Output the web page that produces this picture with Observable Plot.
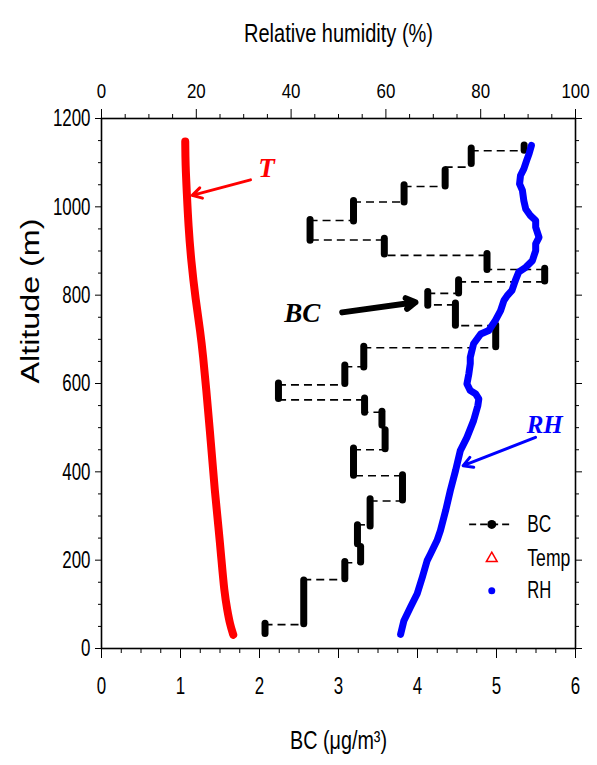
<!DOCTYPE html>
<html><head><meta charset="utf-8">
<script src="https://cdn.jsdelivr.net/npm/d3@7"></script>
<script src="https://cdn.jsdelivr.net/npm/@observablehq/plot@0.6"></script>
<style>
body{margin:0;background:#fff;}
</style></head><body><div id="chart"></div>
<script>
// ---- BC profile: each step = one BC value held over an altitude range ----
const bcValue     = [2.07, 2.56, 3.08, 3.28, 3.24, 3.40, 3.81, 3.19, 3.59, 3.55, 3.33, 2.24, 3.08, 3.32, 4.99, 4.48, 4.13, 4.52, 5.61, 4.88, 3.58, 2.64, 3.19, 3.83, 4.35, 4.68, 5.35];
const bcAltBottom = [26, 48, 150, 188, 229, 269, 328, 384, 444, 498, 527, 558, 592, 629, 675, 724, 769, 797, 824, 850, 885, 916, 960, 1003, 1039, 1090, 1120];
const bcAltTop    = [63, 161, 203, 237, 286, 345, 399, 460, 501, 543, 573, 607, 648, 690, 739, 788, 814, 841, 867, 900, 935, 977, 1020, 1056, 1090, 1139, 1146];
// altitude of the dashed link between step i and step i+1
const bcJoinAlt   = [54, 156, 194, 233, 280, 334, 391, 450, 500, 535, 563, 597, 638, 681, 731, 778, 804, 830, 858, 890, 925, 969, 1011, 1046, 1090, 1127];

// ---- Relative humidity profile (%), top axis ----
const rhAlt = [32, 63, 94, 124, 162, 199, 214, 245, 267, 312, 358, 403, 448, 478, 516, 550, 565, 577, 584, 599, 622, 645, 659, 690, 712, 720, 743, 765, 788, 799, 811, 833, 852, 863, 878, 901, 916, 931, 954, 969, 980, 995, 1014, 1037, 1052, 1071, 1086, 1105, 1120, 1139];
const rhValue = [63.1, 63.8, 65.2, 66.6, 67.7, 68.7, 69.4, 70.8, 71.5, 72.6, 73.6, 74.7, 75.7, 77.1, 78.5, 79.4, 79.6, 78.9, 77.8, 77.1, 77.5, 77.8, 77.8, 78.5, 80.0, 81.7, 83.1, 84.2, 84.9, 85.6, 86.6, 87.3, 88.0, 89.5, 90.9, 91.6, 91.6, 92.3, 91.6, 91.6, 90.5, 89.5, 89.1, 88.8, 88.2, 88.4, 89.1, 89.7, 90.2, 90.7];

// ---- Temperature trace, as placed on the bottom axis ----
const tempAlt = [31, 55, 87, 127, 208, 273, 353, 466, 595, 660, 716, 789, 877, 958, 1031, 1095, 1148];
const tempOnBcAxis = [1.668, 1.626, 1.592, 1.555, 1.515, 1.482, 1.435, 1.385, 1.322, 1.287, 1.252, 1.192, 1.135, 1.100, 1.080, 1.063, 1.060];

// ---- Axis ticks ----
const bcTicks = [0, 1, 2, 3, 4, 5, 6];
const bcMinorTicks = d3.range(0, 6.001, 0.25).filter(v => Math.abs(v - Math.round(v)) > 1e-6);
const rhTicks = [0, 20, 40, 60, 80, 100];
const rhMinorTicks = d3.range(0, 100.1, 5).filter(v => v % 20 !== 0);
const altTicks = [0, 200, 400, 600, 800, 1000, 1200];
const altMinorTicks = d3.range(0, 1201, 50).filter(v => v % 200 !== 0);

// ---- Annotations ----
const annoText = ["T", "BC", "RH"];
const annoX = [2.09, 2.54, 5.61];
const annoY = [1086, 759, 505];
const annoColor = ["#ff0000", "#000000", "#0000ff"];
const arrowX1 = [1.886, 3.047, 5.494];
const arrowY1 = [1061, 761, 478];
const arrowX2 = [1.148, 3.975, 4.578];
const arrowY2 = [1026, 784, 414];

// ---- Legend ----
const legendLabels = ["BC", "Temp", "RH"];
const legendAlt = [281, 204, 131];
const legendSymbolX = 4.94;
const legendLineX = [4.66, 5.19];
const legendTextX = 5.39;

const rhToX = 6 / 100; // top axis (0–100 %) shares the frame with bottom axis (0–6)

const idx = n => d3.range(n);
const font = "'Liberation Sans',Arial,sans-serif";
const serif = "'Liberation Serif','Times New Roman',serif";

const chart = Plot.plot({
  width: 597, height: 765,
  marginLeft: 101, marginRight: 22, marginTop: 118, marginBottom: 117,
  style: {fontFamily: font, fontSize: "20px", background: "#fff", color: "#000"},
  x: {domain: [0, 6]},
  y: {domain: [0, 1200]},
  marks: [
    // axes
    Plot.axisX({anchor: "bottom", ticks: bcTicks, tickSize: 10, tickPadding: 18, tickFormat: d => String(d), label: null, fontSize: 24}),
    Plot.axisX({anchor: "bottom", ticks: bcMinorTicks, tickSize: 5, tickFormat: () => "", label: null}),
    Plot.axisX({anchor: "top", ticks: rhTicks.map(v => v * rhToX), tickSize: 10, tickPadding: 11, tickFormat: d => String(Math.round(d / rhToX)), label: null, fontSize: 21}),
    Plot.axisX({anchor: "top", ticks: rhMinorTicks.map(v => v * rhToX), tickSize: 5, tickFormat: () => "", label: null}),
    Plot.axisY({anchor: "left", ticks: altTicks, tickSize: 6, tickPadding: 5, tickFormat: d => String(d), label: null, fontSize: 24}),
    Plot.axisY({anchor: "left", ticks: altMinorTicks, tickSize: 3, tickFormat: () => "", label: null}),
    Plot.axisY({anchor: "right", ticks: altTicks, tickSize: 6, tickFormat: () => "", label: null}),
    Plot.axisY({anchor: "right", ticks: altMinorTicks, tickSize: 3, tickFormat: () => "", label: null}),
    Plot.frame({stroke: "#000", strokeWidth: 1.6}),

    // axis titles
    Plot.text(["Relative humidity (%)"], {frameAnchor: "top", dy: -94, fontSize: 25, fill: "#000"}),
    Plot.text(["BC (\u03bcg/m\u00b3)"], {frameAnchor: "bottom", dy: 100, fontSize: 25, fill: "#000"}),
    Plot.text(["Altitude (m)"], {frameAnchor: "left", dx: -71, rotate: -90, fontSize: 25, fill: "#000"}),

    // temperature trace
    Plot.line(idx(tempAlt.length), {x: i => tempOnBcAxis[i], y: i => tempAlt[i], stroke: "#ff0000", strokeWidth: 8, strokeLinecap: "round", strokeLinejoin: "round", curve: "basis"}),

    // BC dashed links and steps
    Plot.ruleY(idx(bcJoinAlt.length), {y: i => bcJoinAlt[i], x1: i => bcValue[i], x2: i => bcValue[i + 1], stroke: "#000", strokeWidth: 1.6, strokeDasharray: "8,5"}),
    Plot.ruleX(idx(bcValue.length), {x: i => bcValue[i], y1: i => bcAltBottom[i] + 7, y2: i => bcAltTop[i] - 7, stroke: "#000", strokeWidth: 7, strokeLinecap: "round"}),

    // RH trace
    Plot.line(idx(rhAlt.length), {x: i => rhValue[i] * rhToX, y: i => rhAlt[i], stroke: "#0000ff", strokeWidth: 7, strokeLinecap: "round", strokeLinejoin: "round"}),

    // annotations
    Plot.arrow(idx(3), {x1: i => arrowX1[i], y1: i => arrowY1[i], x2: i => arrowX2[i], y2: i => arrowY2[i], stroke: i => annoColor[i], strokeWidth: i => i === 1 ? 6 : 3, headLength: 16, headAngle: 60}),
    Plot.text(idx(3), {x: i => annoX[i], y: i => annoY[i], text: i => annoText[i], fill: i => annoColor[i], fontSize: i => i === 2 ? 25 : 27, fontWeight: "bold", fontStyle: "italic", fontFamily: serif}),

    // legend
    Plot.ruleY([legendAlt[0]], {y: d => d, x1: legendLineX[0], x2: legendLineX[1], stroke: "#000", strokeWidth: 1.6, strokeDasharray: "7,4"}),
    Plot.dot([legendAlt[0]], {x: legendSymbolX, y: d => d, r: 4.5, fill: "#000"}),
    Plot.dot([legendAlt[1]], {x: legendSymbolX, y: d => d, r: 4, symbol: "triangle", stroke: "#ff0000", strokeWidth: 1.5, fill: "none"}),
    Plot.dot([legendAlt[2]], {x: legendSymbolX, y: d => d, r: 3.5, fill: "#0000ff"}),
    Plot.text(idx(3), {x: legendTextX, y: i => legendAlt[i], text: i => legendLabels[i], textAnchor: "start", fontSize: 24, fill: "#000"})
  ]
});

// condense text to the reference's narrow type
const sel = d3.select(chart);
const fitText = (txt, len) => sel.selectAll("text").filter(function() { return this.textContent === txt; })
  .attr("textLength", len).attr("lengthAdjust", "spacingAndGlyphs");
fitText("Altitude (m)", 165);
fitText("Relative humidity (%)", 189);
fitText("BC (\u03bcg/m\u00b3)", 97);
fitText("Temp", 43);
sel.selectAll("text").filter(function() { return (this.textContent === "BC" || this.textContent === "RH") && !this.closest("[font-style=italic]") && this.getAttribute("font-style") !== "italic"; })
  .attr("textLength", 24).attr("lengthAdjust", "spacingAndGlyphs");
sel.selectAll("g[aria-label$='tick label'] text").each(function() {
  const t = this.textContent;
  if (t && /^\d+$/.test(t)) d3.select(this).attr("textLength", t.length * 9.4).attr("lengthAdjust", "spacingAndGlyphs");
});

document.getElementById("chart").appendChild(chart);
</script>
</body></html>
